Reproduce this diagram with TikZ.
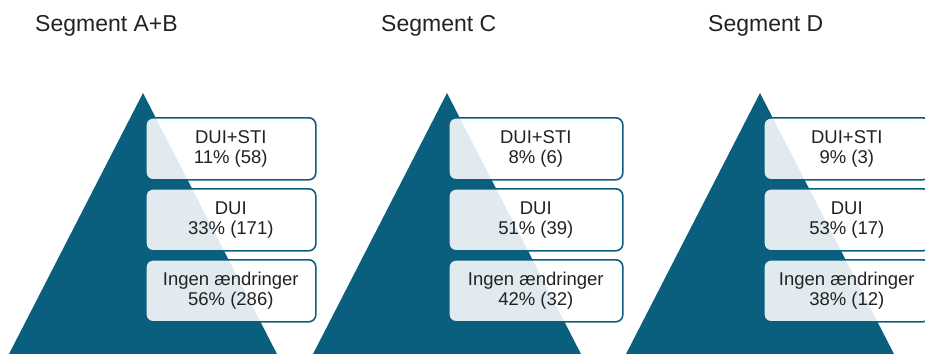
\documentclass[tikz,border=0pt]{standalone}
\usepackage{fontspec}
\setmainfont{Liberation Sans}
\definecolor{teal1}{RGB}{10,94,126}
\definecolor{txt}{RGB}{34,34,34}
\tikzset{
  tri/.style={fill=teal1, draw=none},
  segbox/.style={draw=teal1, line width=1.6pt, fill=white, fill opacity=0.88, draw opacity=1, text opacity=1, rounded corners=7pt, minimum width=170pt, minimum height=62pt, inner sep=0pt, align=center, text=txt, font=\fontsize{18.5}{20.5}\selectfont, anchor=north west},
  title/.style={anchor=base west, text=txt, font=\fontsize{23}{26}\selectfont, inner sep=0pt}
}
\begin{document}
\begin{tikzpicture}[x=1pt,y=-1pt]
\useasboundingbox (0,0) rectangle (925,353);
\clip (0,0) rectangle (925,353);
% titles
\node[title] (t1) at (35,31.5) {Segment A+B};
\node[title] (t2) at (381,31.5) {Segment C};
\node[title] (t3) at (708,31.5) {Segment D};
% triangles
\fill[tri] (143,93) -- (278,356) -- (8,356) -- cycle;
\fill[tri] (447,93) -- (582,356) -- (312,356) -- cycle;
\fill[tri] (760,93) -- (895,356) -- (625,356) -- cycle;
% segment A+B
\node[segbox] (a1) at (145,117) {DUI+STI\\11\% (58)};
\node[segbox] (a2) at (145,188) {DUI\\33\% (171)};
\node[segbox] (a3) at (145,259) {Ingen ændringer\\56\% (286)};
% segment C
\node[segbox, minimum width=174pt] (c1) at (448,117) {DUI+STI\\8\% (6)};
\node[segbox, minimum width=174pt] (c2) at (448,188) {DUI\\51\% (39)};
\node[segbox, minimum width=174pt] (c3) at (448,259) {Ingen ændringer\\42\% (32)};
% segment D
\node[segbox, minimum width=166pt] (d1) at (763,117) {DUI+STI\\9\% (3)};
\node[segbox, minimum width=166pt] (d2) at (763,188) {DUI\\53\% (17)};
\node[segbox, minimum width=166pt] (d3) at (763,259) {Ingen ændringer\\38\% (12)};
\end{tikzpicture}
\end{document}
